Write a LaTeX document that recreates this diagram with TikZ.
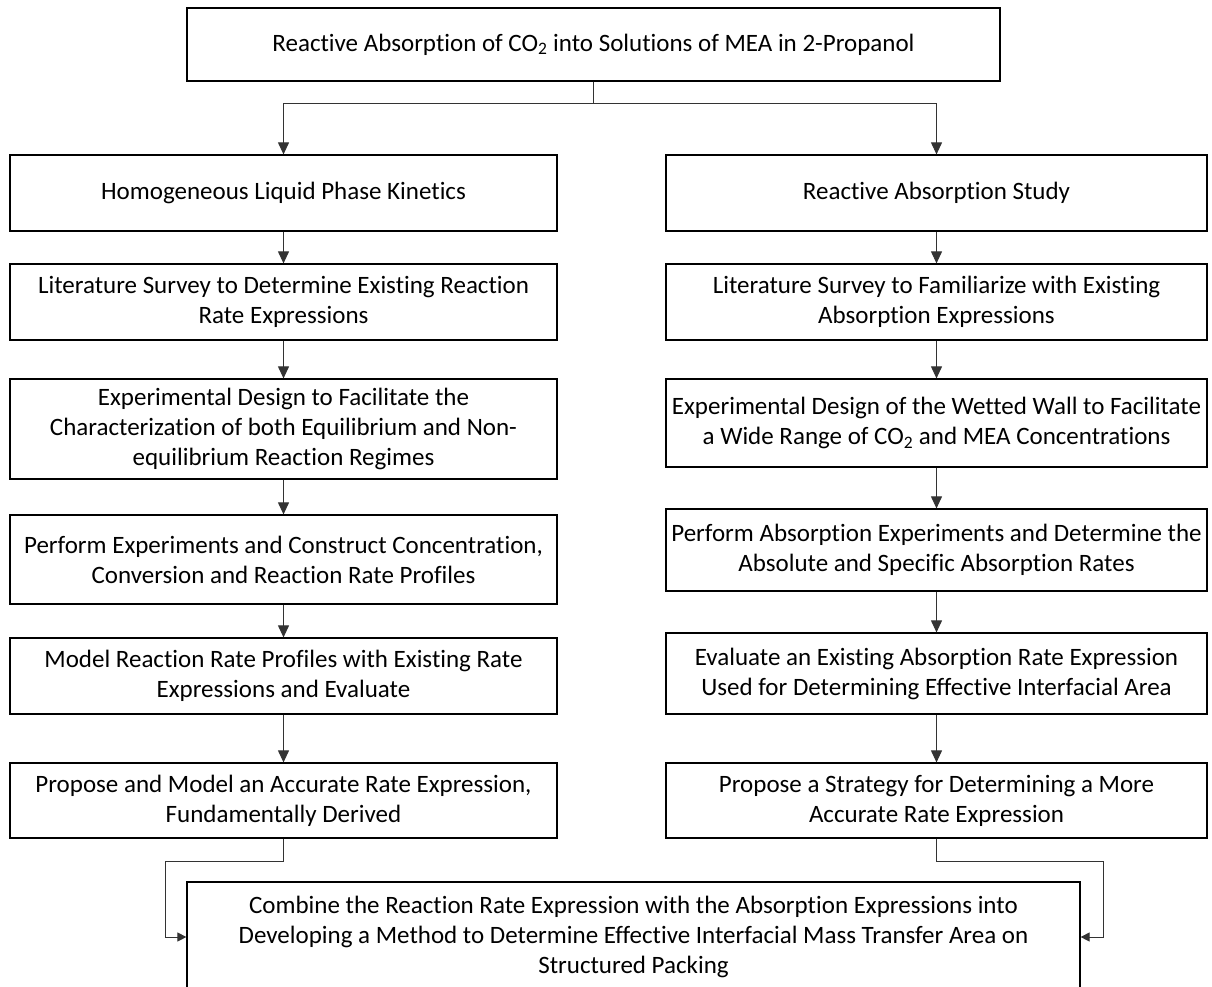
\documentclass[tikz,border=0pt]{standalone}
\usepackage{fontspec}
\setmainfont{Carlito}[Ligatures={NoCommon}]
\usetikzlibrary{arrows.meta,calc}
\begin{document}
\begin{tikzpicture}[x=1pt,y=-1pt,
  box/.style={draw=black,line width=1.2pt,fill=white,align=center,inner sep=0pt,
    font=\fontsize{25}{30}\selectfont},
  lbox/.style={box,minimum width=547pt},
  rbox/.style={box,minimum width=541pt},
  arr/.style={draw=black!80,line width=1pt,-{Triangle[length=12pt,width=11pt]}},
  sarr/.style={draw=black!80,line width=1pt,-{Triangle[length=9pt,width=9pt]}},
  con/.style={draw=black!80,line width=1pt}]
\useasboundingbox (0,0) rectangle (1212,987);
\fill[white] (0,0) rectangle (1212,987);

\node[box,minimum width=813pt,minimum height=73pt] (top) at (593.5,44.5)
  {Reactive Absorption of CO\textsubscript{2} into Solutions of MEA in 2-Propanol};

\node[lbox,minimum height=76pt] (L1) at (283.5,193) {Homogeneous Liquid Phase Kinetics};
\node[lbox,minimum height=76pt] (L2) at (283.5,302) {Literature Survey to Determine Existing Reaction\\Rate Expressions};
\node[lbox,minimum height=100pt] (L3) at (283.5,429) {Experimental Design to Facilitate the\\Characterization of both Equilibrium and Non-\\equilibrium Reaction Regimes};
\node[lbox,minimum height=89pt] (L4) at (283.5,559.5) {Perform Experiments and Construct Concentration,\\Conversion and Reaction Rate Profiles};
\node[lbox,minimum height=76pt] (L5) at (283.5,676) {Model Reaction Rate Profiles with Existing Rate\\Expressions and Evaluate};
\node[lbox,minimum height=75pt] (L6) at (283.5,800.5) {Propose and Model an Accurate Rate Expression,\\Fundamentally Derived};

\node[rbox,minimum height=76pt] (R1) at (936.5,193) {Reactive Absorption Study};
\node[rbox,minimum height=76pt] (R2) at (936.5,302) {Literature Survey to Familiarize with Existing\\Absorption Expressions};
\node[rbox,minimum height=88pt] (R3) at (936.5,423) {Experimental Design of the Wetted Wall to Facilitate\\a Wide Range of CO\textsubscript{2} and MEA Concentrations};
\node[rbox,minimum height=82pt] (R4) at (936.5,550) {Perform Absorption Experiments and Determine the\\Absolute and Specific Absorption Rates};
\node[rbox,minimum height=81pt] (R5) at (936.5,673.5) {Evaluate an Existing Absorption Rate Expression\\Used for Determining Effective Interfacial Area};
\node[rbox,minimum height=75pt] (R6) at (936.5,800.5) {Propose a Strategy for Determining a More\\Accurate Rate Expression};

\node[box,minimum width=893pt,minimum height=110pt] (B) at (633.5,937)
  {Combine the Reaction Rate Expression with the Absorption Expressions into\\Developing a Method to Determine Effective Interfacial Mass Transfer Area on\\Structured Packing};

\coordinate (br) at (593.5,104);
\coordinate (jl) at (165,861);
\coordinate (jr) at (1103,861);

\draw[con] (top.south) -- (br);
\draw[arr] (br) -| (L1.north);
\draw[arr] (br) -| (R1.north);

\draw[arr] (L1) -- (L2);
\draw[arr] (L2) -- (L3);
\draw[arr] (L3) -- (L4);
\draw[arr] (L4) -- (L5);
\draw[arr] (L5) -- (L6);

\draw[arr] (R1) -- (R2);
\draw[arr] (R2) -- (R3);
\draw[arr] (R3) -- (R4);
\draw[arr] (R4) -- (R5);
\draw[arr] (R5) -- (R6);

\draw[sarr] (L6.south) |- (jl) |- (B.west);
\draw[sarr] (R6.south) |- (jr) |- (B.east);
\end{tikzpicture}
\end{document}
